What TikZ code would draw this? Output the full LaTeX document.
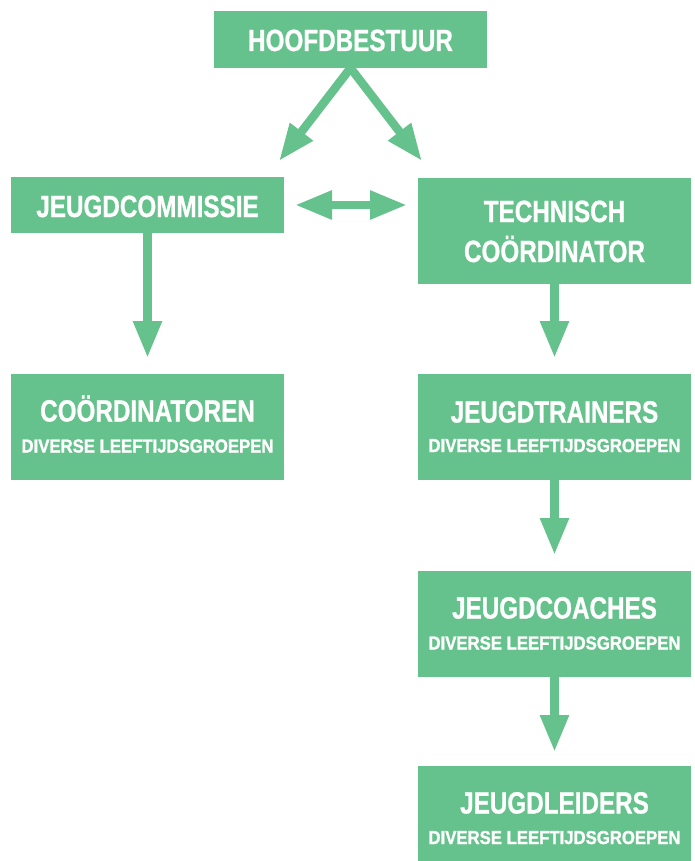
\documentclass[tikz,border=0pt]{standalone}
\usepackage{fontspec}
\usetikzlibrary{arrows.meta,calc}
\newfontfamily\bigf[FakeStretch=0.79,FakeBold=0.8]{Liberation Sans Bold}
\newfontfamily\smallf[FakeStretch=0.89,FakeBold=1.2]{Liberation Sans Bold}
\definecolor{orggreen}{HTML}{66C28C}
\tikzset{
  box/.style={fill=orggreen, draw=none, minimum width=273pt, inner sep=0pt, outer sep=0pt},
  bigtxt/.style={text=white, font=\bigf\fontsize{30.7}{30.7}\selectfont, anchor=base, inner sep=0pt},
  smalltxt/.style={text=white, font=\smallf\fontsize{18.8}{18.8}\selectfont, anchor=base, inner sep=0pt},
  arr/.style={draw=orggreen, line width=8.5pt, -{Triangle[length=37pt,width=27pt]}},
  darr/.style={draw=orggreen, line width=8.5pt, {Triangle[length=37pt,width=27pt]}-{Triangle[length=37pt,width=27pt]}}
}
\begin{document}
\begin{tikzpicture}[x=1pt,y=-1pt]
\useasboundingbox (0,0) rectangle (695,861);
% boxes
\node[box, minimum height=57pt] (hb) at (350.5,39.5) {};
\node[box, minimum height=56pt] (jc) at (147.5,205) {};
\node[box, minimum height=106pt] (tc) at (554.5,231) {};
\node[box, minimum height=106pt] (co) at (147.5,427) {};
\node[box, minimum height=106pt] (jt) at (554.5,427) {};
\node[box, minimum height=106pt] (jch) at (554.5,624) {};
\node[box, minimum height=106pt] (jl) at (554.5,819) {};
% texts
\node[bigtxt] (hbt) at ($(hb.north)+(0,40)$) {HOOFDBESTUUR};
\node[bigtxt] (jct) at ($(jc.north)+(0,40)$) {JEUGDCOMMISSIE};
\node[bigtxt] (tct1) at ($(tc.north)+(0,44)$) {TECHNISCH};
\node[bigtxt] (tct2) at ($(tc.north)+(0,84)$) {COÖRDINATOR};
\node[bigtxt] (cot1) at ($(co.north)+(0,47.5)$) {COÖRDINATOREN};
\node[smalltxt] (cot2) at ($(co.north)+(0,78.5)$) {DIVERSE LEEFTIJDSGROEPEN};
\node[bigtxt] (jtt1) at ($(jt.north)+(0,48.5)$) {JEUGDTRAINERS};
\node[smalltxt] (jtt2) at ($(jt.north)+(0,78)$) {DIVERSE LEEFTIJDSGROEPEN};
\node[bigtxt] (jcht1) at ($(jch.north)+(0,47.5)$) {JEUGDCOACHES};
\node[smalltxt] (jcht2) at ($(jch.north)+(0,78.5)$) {DIVERSE LEEFTIJDSGROEPEN};
\node[bigtxt] (jlt1) at ($(jl.north)+(0,47.5)$) {JEUGDLEIDERS};
\node[smalltxt] (jlt2) at ($(jl.north)+(0,78)$) {DIVERSE LEEFTIJDSGROEPEN};
% arrow end points
\coordinate (tipL) at (279,161);
\coordinate (tipR) at (422,161);
% connectors
\draw[arr] (hb.south) -- (tipL);
\draw[arr] (hb.south) -- (tipR);
\draw[darr, shorten <=11pt, shorten >=11pt] (jc.east) -- (jc.east -| tc.west);
\draw[arr, shorten >=16pt] (jc.south) -- (co.north);
\draw[arr, shorten >=16pt] (tc.south) -- (jt.north);
\draw[arr, shorten >=16pt] (jt.south) -- (jch.north);
\draw[arr, shorten >=14pt] (jch.south) -- (jl.north);
\end{tikzpicture}
\end{document}
